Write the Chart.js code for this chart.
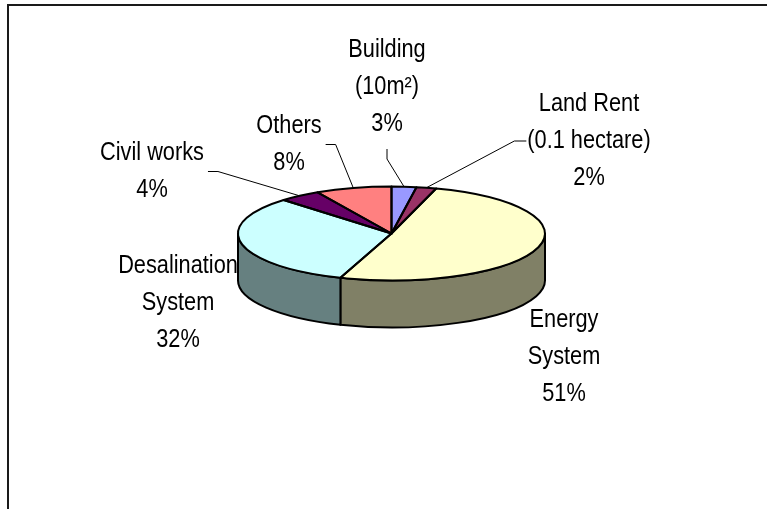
<!DOCTYPE html>
<html>
<head>
<meta charset="utf-8">
<script src="https://cdn.jsdelivr.net/npm/chart.js@4.4.1/dist/chart.umd.min.js"></script>
<style>
  html, body { margin: 0; padding: 0; background: #fff; }
  #wrap { width: 767px; height: 509px; }
</style>
</head>
<body>
<div id="wrap"><canvas id="chart" width="767" height="509"></canvas></div>
<script>
// cost breakdown (labels show rounded percent)
const categories = [
  ['Building', '(10m²)'],
  ['Land Rent', '(0.1 hectare)'],
  ['Energy', 'System'],
  ['Desalination', 'System'],
  ['Civil works'],
  ['Others'],
];
const costShare = [2.6, 2.1, 50.7, 32.2, 4.4, 8.0];
const sliceColors = ['#9999FF', '#993366', '#FFFFCC', '#CCFFFF', '#660066', '#FF8080'];

// where Excel put each data label (centre of first line) and how the leader attaches
const labelLayout = [
  { x: 387, y: 50, leader: 'bottom' },
  { x: 589, y: 104, leader: 'left' },
  { x: 564, y: 320, leader: null },
  { x: 178, y: 266, leader: null },
  { x: 152, y: 153, leader: 'right' },
  { x: 289, y: 126, leader: 'right' },
];

const TILT = 0.306;      // ry / rx of the top face
const DEPTH = 47;        // height of the pie wall
const FONT = '25px "Liberation Sans", Arial, sans-serif';
const SQUEEZE = 0.87;    // labels are rendered narrow in the original
const LINE_H = 37;

function darken(hex, f) {
  const n = parseInt(hex.slice(1), 16);
  const r = Math.round(((n >> 16) & 255) * f);
  const g = Math.round(((n >> 8) & 255) * f);
  const b = Math.round((n & 255) * f);
  return `rgb(${r},${g},${b})`;
}

function arcProps(chart) {
  return chart.getDatasetMeta(0).data.map((a) =>
    a.getProps(['x', 'y', 'startAngle', 'endAngle', 'outerRadius'], true));
}

const pie3d = {
  id: 'pie3d',
  beforeDraw(chart) {
    const ctx = chart.ctx;
    ctx.save();
    ctx.fillStyle = '#1a1a1a';
    ctx.fillRect(7, 4, 760, 2);
    ctx.fillRect(7, 4, 2, 505);
    ctx.restore();
  },
  beforeDatasetsDraw(chart) {
    const ctx = chart.ctx;
    const arcs = arcProps(chart);
    ctx.save();
    ctx.lineWidth = 2;
    ctx.strokeStyle = '#000';
    ctx.lineJoin = 'round';
    arcs.forEach((p, i) => {
      const a1 = Math.max(p.startAngle, 0);
      const a2 = Math.min(p.endAngle, Math.PI);
      if (a2 <= a1) return;
      const rx = p.outerRadius, ry = rx * TILT;
      ctx.beginPath();
      ctx.ellipse(p.x, p.y, rx, ry, 0, a1, a2);
      ctx.lineTo(p.x + rx * Math.cos(a2), p.y + ry * Math.sin(a2) + DEPTH);
      ctx.ellipse(p.x, p.y + DEPTH, rx, ry, 0, a2, a1, true);
      ctx.closePath();
      ctx.fillStyle = darken(sliceColors[i], 0.5);
      ctx.fill();
      ctx.stroke();
    });
    ctx.restore();
    // squash the library's round pie into the tilted top face
    const cy = arcs[0].y;
    ctx.save();
    ctx.translate(0, cy);
    ctx.scale(1, TILT);
    ctx.translate(0, -cy);
  },
  afterDatasetsDraw(chart) {
    const ctx = chart.ctx;
    ctx.restore();
    const arcs = arcProps(chart);
    ctx.save();
    ctx.lineWidth = 2;
    ctx.strokeStyle = '#000';
    ctx.lineJoin = 'round';
    arcs.forEach((p) => {
      const rx = p.outerRadius, ry = rx * TILT;
      ctx.beginPath();
      ctx.moveTo(p.x, p.y);
      ctx.ellipse(p.x, p.y, rx, ry, 0, p.startAngle, p.endAngle);
      ctx.closePath();
      ctx.stroke();
    });

    // data labels with leader lines
    const total = costShare.reduce((s, v) => s + v, 0);
    ctx.font = FONT;
    ctx.fillStyle = '#000';
    ctx.textAlign = 'center';
    ctx.textBaseline = 'middle';
    ctx.lineWidth = 1;
    arcs.forEach((p, i) => {
      const lay = labelLayout[i];
      const lines = categories[i].concat([Math.round(costShare[i] / total * 100) + '%']);
      let w = 0;
      lines.forEach((t, k) => {
        w = Math.max(w, ctx.measureText(t).width * SQUEEZE);
        ctx.save();
        ctx.translate(lay.x, lay.y + k * LINE_H);
        ctx.scale(SQUEEZE, 1);
        ctx.fillText(t, 0, 0);
        ctx.restore();
      });
      if (!lay.leader) return;
      const mid = (p.startAngle + p.endAngle) / 2;
      const rx = p.outerRadius, ry = rx * TILT;
      const ex = p.x + rx * Math.cos(mid);
      const ey = p.y + ry * Math.sin(mid);
      const cyBlock = lay.y + (lines.length - 1) * LINE_H / 2;
      let sx, sy, kx, ky;
      if (lay.leader === 'bottom') {
        sx = lay.x; sy = lay.y + (lines.length - 1) * LINE_H + 25;
        kx = sx; ky = sy + 10;
      } else if (lay.leader === 'right') {
        sx = lay.x + w / 2 + 4; sy = cyBlock;
        kx = sx + 10; ky = sy;
      } else {
        sx = lay.x - w / 2 - 1; sy = cyBlock;
        kx = sx - 12; ky = sy;
      }
      ctx.beginPath();
      ctx.moveTo(sx, sy);
      ctx.lineTo(kx, ky);
      ctx.lineTo(ex, ey);
      ctx.stroke();
    });
    ctx.restore();
  },
};

new Chart(document.getElementById('chart'), {
  type: 'pie',
  data: {
    labels: categories,
    datasets: [{
      data: costShare,
      backgroundColor: sliceColors,
      borderWidth: 0,
    }],
  },
  options: {
    responsive: false,
    animation: false,
    rotation: 0,
    layout: { padding: { left: 238, right: 222, top: 80, bottom: 122 } },
    plugins: {
      legend: { display: false },
      tooltip: { enabled: false },
    },
    events: [],
  },
  plugins: [pie3d],
});
</script>
</body>
</html>
